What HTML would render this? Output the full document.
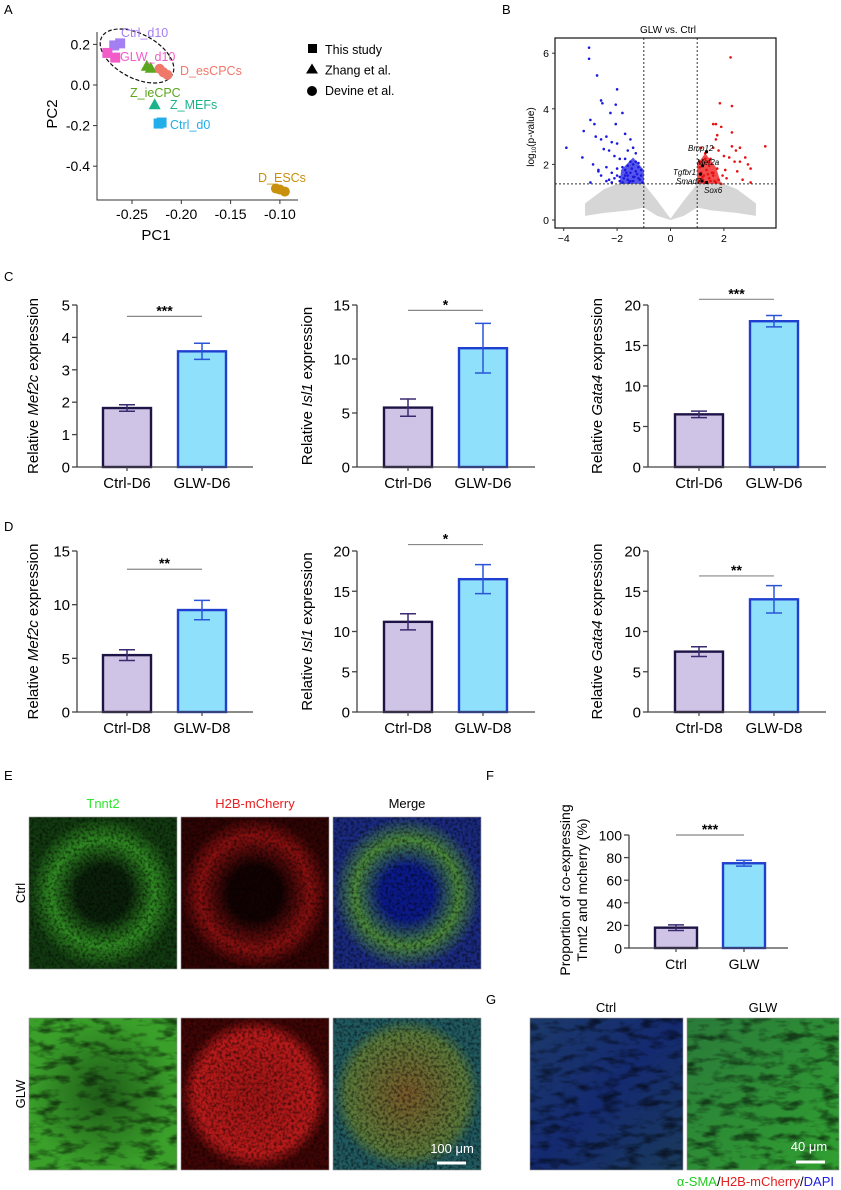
<!DOCTYPE html>
<html><head><meta charset="utf-8">
<style>
body{margin:0;background:#fff;}
svg{display:block;font-family:"Liberation Sans",Arial,sans-serif;}
</style></head>
<body>
<svg id="fig" width="841" height="1190" viewBox="0 0 841 1190" xmlns="http://www.w3.org/2000/svg">
<defs>
<filter id="speck" x="0" y="0" width="100%" height="100%"><feTurbulence type="fractalNoise" baseFrequency="0.35" numOctaves="2" seed="3"/><feColorMatrix type="matrix" values="0 0 0 0 0  0 0 0 0 0  0 0 0 0 0  0 0 0 -2.5 1.5"/></filter>
<filter id="fib" x="0" y="0" width="100%" height="100%"><feTurbulence type="fractalNoise" baseFrequency="0.05 0.12" numOctaves="3" seed="7"/><feColorMatrix type="matrix" values="0 0 0 0 0  0 0 0 0 0  0 0 0 0 0  0 0 0 -3 1.6"/></filter>
<radialGradient id="ringG"><stop offset="0.35" stop-color="#0a200a"/><stop offset="0.7" stop-color="#2f8a22"/><stop offset="1" stop-color="#123a10"/></radialGradient>
<radialGradient id="ringR"><stop offset="0.35" stop-color="#120202"/><stop offset="0.75" stop-color="#8a1010"/><stop offset="1" stop-color="#300404"/></radialGradient>
<radialGradient id="ringM"><stop offset="0.35" stop-color="#0b1a8a"/><stop offset="0.7" stop-color="#4a8a3a"/><stop offset="1" stop-color="#1a2a80"/></radialGradient>
<radialGradient id="fullG"><stop offset="0" stop-color="#1f5a18"/><stop offset="1" stop-color="#3aa02a"/></radialGradient>
<radialGradient id="fullR"><stop offset="0" stop-color="#a01515"/><stop offset="0.8" stop-color="#b81a1a"/><stop offset="1" stop-color="#400505"/></radialGradient>
<radialGradient id="fullM"><stop offset="0" stop-color="#7a5a2a"/><stop offset="0.8" stop-color="#5a7a3a"/><stop offset="1" stop-color="#205a60"/></radialGradient>
<linearGradient id="gCtrl" x1="0" y1="0" x2="1" y2="1"><stop offset="0" stop-color="#1c3a6a"/><stop offset="0.5" stop-color="#142a70"/><stop offset="1" stop-color="#1a3a5a"/></linearGradient>
<linearGradient id="gGlw" x1="0" y1="0" x2="1" y2="1"><stop offset="0" stop-color="#2a7a3a"/><stop offset="1" stop-color="#30a030"/></linearGradient>
</defs>
<g id="root"></g>
</svg>
<script>
// ---------- data ----------
const pcaGroups = ["Ctrl_d10","GLW_d10","Z_ieCPC","D_esCPCs","Z_MEFs","Ctrl_d0","D_ESCs"];
const pcaShapes = ["square","square","triangle","circle","triangle","square","circle"];
const pcaColors = ["#a47ff2","#f25cc9","#5aa61c","#f0786a","#1ab38a","#22aee8","#c8900c"];
const pcaPC1 = [[-0.268,-0.262],[-0.275,-0.267],[-0.235,-0.231],[-0.222,-0.218,-0.214],[-0.227],[-0.223,-0.220],[-0.104,-0.100,-0.095]];
const pcaPC2 = [[0.195,0.205],[0.158,0.135],[0.095,0.085],[0.08,0.062,0.05],[-0.095],[-0.19,-0.185],[-0.51,-0.515,-0.525]];
const pcaXTicks = [-0.25,-0.20,-0.15,-0.10];
const pcaYTicks = [0.2,0.0,-0.2,-0.4];

const volBlueX = [-3.05,-3.05,-2.75,-2.0,-2.6,-2.55,-2.05,-2.25,-3.0,-2.85,-3.25,-2.05,-1.8,-3.9,-3.3,-2.6,-2.4,-2.8,-2.2,-2.0,-1.7,-1.5,-1.6,-1.4,-1.3,-2.5,-2.3,-2.1,-1.9,-1.7,-1.5,-2.9,-2.7,-2.4,-2.2,-2.0,-1.8,-1.6,-1.4,-1.2,-1.1,-1.3,-1.5,-1.7,-1.9,-2.1,-2.3,-2.6,-1.2,-1.4,-1.6,-1.8,-1.25,-1.35,-1.45,-1.55,-1.65,-1.75,-1.15,-1.05,-1.1,-1.2,-1.3,-1.4,-1.5,-1.6,-1.7,-1.9,-2.0,-2.2,-2.4,-2.7,-3.0];
const volBlueY = [6.2,5.8,5.2,4.7,4.3,4.2,4.15,3.85,3.6,3.45,3.2,3.45,3.85,2.6,2.25,2.9,3.0,3.0,2.8,2.75,3.1,2.9,2.5,2.6,2.4,2.55,2.5,2.3,2.2,2.2,2.1,2.0,1.8,1.9,1.7,1.85,1.9,1.95,2.0,2.05,1.8,1.75,1.7,1.6,1.55,1.5,1.45,1.6,1.5,1.4,1.45,1.35,1.65,1.55,1.85,1.35,1.7,1.5,1.45,1.35,1.6,1.9,2.1,1.55,1.4,1.6,1.8,1.4,1.6,1.35,1.4,1.75,1.35];
const volRedX = [2.25,2.3,2.3,1.85,1.6,1.7,1.9,1.75,2.3,2.6,2.8,3.55,2.9,2.5,2.4,2.7,3.0,3.0,2.2,2.0,1.8,1.6,1.4,1.3,1.2,1.1,1.15,1.25,1.35,1.45,1.55,1.65,1.75,1.95,2.1,1.05,1.2,1.3,1.4,1.5,1.6,1.7,1.8,1.9,2.05,1.1,1.2,1.3,1.45,1.6,2.45,2.6,1.7,1.5,1.15];
const volRedY = [5.85,4.1,3.15,4.2,3.45,3.45,3.35,3.05,2.65,2.6,2.25,2.65,2.0,1.75,2.1,1.45,1.85,1.35,2.25,2.3,2.5,2.6,2.1,2.2,2.0,1.9,1.7,1.6,1.8,1.5,1.7,1.4,1.85,1.6,1.5,1.4,1.45,1.35,1.65,1.4,1.6,1.35,1.45,1.3,1.8,2.1,1.55,2.4,1.95,1.7,2.5,2.1,2.9,2.2,2.6];
const volGeneNames = ["Bmp12","Mef2a","Tgfbr1","Smad7","Sox6"];
const volGeneX = [1.35,1.2,1.12,1.18,1.35];
const volGeneY = [2.45,1.95,1.65,1.4,1.35];
const volGrayX = [-3.2,-2.5,-2.0,-1.5,-1.0,-0.5,0,0.5,1.0,1.5,2.0,2.5,3.2];
const volGrayTop = [0.6,1.1,1.3,1.3,1.3,0.7,0.05,0.7,1.3,1.3,1.3,1.1,0.6];
const volGrayBot = [0.15,0.25,0.3,0.35,0.45,0.15,0.0,0.15,0.45,0.35,0.3,0.25,0.15];
const volXTicks = [-4,-2,0,2];
const volYTicks = [0,2,4,6];

const barCats = [["Ctrl-D6","GLW-D6"],["Ctrl-D8","GLW-D8"],["Ctrl","GLW"]];
const c1Vals=[1.82,3.57], c1Errs=[0.1,0.25];
const c2Vals=[5.5,11.0],  c2Errs=[0.8,2.3];
const c3Vals=[6.5,18.0],  c3Errs=[0.4,0.7];
const d1Vals=[5.3,9.5],   d1Errs=[0.5,0.9];
const d2Vals=[11.2,16.5], d2Errs=[1.0,1.8];
const d3Vals=[7.5,14.0],  d3Errs=[0.6,1.7];
const fVals=[18,75],      fErrs=[2.5,2.5];
const c1Ticks=[0,1,2,3,4,5], c2Ticks=[0,5,10,15], c3Ticks=[0,5,10,15,20];
const d1Ticks=[0,5,10,15], d2Ticks=[0,5,10,15,20], d3Ticks=[0,5,10,15,20];
const fTicks=[0,20,40,60,80,100];

// ---------- helpers ----------
const NS="http://www.w3.org/2000/svg";
const root=document.getElementById('root');
function mk(tag,attrs,parent,txt){const e=document.createElementNS(NS,tag);for(const k in attrs)e.setAttribute(k,attrs[k]);if(txt!==undefined)e.textContent=txt;(parent||root).appendChild(e);return e;}
function txt(x,y,s,size,anchor,fill,name,parent,extra){const e=mk('text',Object.assign({x:x,y:y,'font-size':size,'text-anchor':anchor||'start',fill:fill||'#000'},extra||{}),parent,s);


return e;}

// panel letters
[["A",4,14],["B",502,14],["C",4,281],["D",4,531],["E",4,780],["F",486,780],["G",486,1004]].forEach(p=>{
 txt(p[1],p[2],p[0],13,'start','#000','panel-label-'+p[0].toLowerCase());
});

// ---------- Panel A: PCA ----------
(function(){
 const g=mk('g',{});
 
 
 const X=v=>132+(v+0.25)/0.05*49.3, Y=v=>85-v/0.2*40.6;
 const ax=mk('path',{d:'M97,32 V200 H298',stroke:'#333',fill:'none','stroke-width':1},g);
 
 
 pcaXTicks.forEach(t=>{mk('line',{x1:X(t),x2:X(t),y1:200,y2:204,stroke:'#333'},g);txt(X(t),219,t.toFixed(2),14,'middle','#000','pca-x-tick',g);});
 pcaYTicks.forEach(t=>{mk('line',{x1:93,x2:97,y1:Y(t),y2:Y(t),stroke:'#333'},g);txt(90,Y(t)+5,t.toFixed(1),14,'end','#000','pca-y-tick',g);});
 txt(156,240,'PC1',15,'middle','#000','pca-x-title',g);
 txt(0,0,'PC2',15,'middle','#000','pca-y-title',g,{transform:'translate(57,114) rotate(-90)'});
 const el=mk('ellipse',{cx:137,cy:56,rx:40,ry:22,transform:'rotate(28 137 56)',fill:'none',stroke:'#111','stroke-dasharray':'4,2','stroke-width':1.2},g);
 
 
 pcaGroups.forEach((name,i)=>{
  pcaPC1[i].forEach((v,j)=>{
   const cx=X(v), cy=Y(pcaPC2[i][j]); let m;
   if(pcaShapes[i]==='square') m=mk('rect',{x:cx-5,y:cy-5,width:10,height:10,fill:pcaColors[i]},g);
   else if(pcaShapes[i]==='circle') m=mk('circle',{cx:cx,cy:cy,r:5,fill:pcaColors[i]},g);
   else m=mk('path',{d:`M${cx},${cy-6} L${cx+6},${cy+5} L${cx-6},${cy+5}Z`,fill:pcaColors[i]},g);
   
   
  });
 });
 const labs=[[121,37],[120,61],[130,97],[180,75],[170,109],[170,129],[258,182]];
 pcaGroups.forEach((n,i)=>txt(labs[i][0],labs[i][1],n,12.5,'start',pcaColors[i],'pca-label-'+n.toLowerCase().replace('_','-'),g));
 const legT=["This study","Zhang et al.","Devine et al."];
 legT.forEach((t,i)=>{const y=49+i*20.5;
  let m; if(i===0)m=mk('rect',{x:308,y:y-5,width:9,height:9,fill:'#000'},g);
  else if(i===1)m=mk('path',{d:`M312,${y-6} L318,${y+4} L306,${y+4}Z`,fill:'#000'},g);
  else m=mk('circle',{cx:312,cy:y+1,r:5,fill:'#000'},g);
  
  
  txt(325,y+5,t,12.5,'start','#000','legend-entry',g);});
})();

// ---------- Panel B: volcano ----------
(function(){
 const g=mk('g',{});
 
 
 const X=v=>670.5+26.7*v, Y=v=>220-27.8*v;
 let d='M'+volGrayX.map((x,i)=>X(x)+','+Y(volGrayTop[i])).join(' L');
 for(let i=volGrayX.length-1;i>=0;i--) d+=' L'+X(volGrayX[i])+','+Y(volGrayBot[i]);
 const cloud=mk('path',{d:d+'Z',fill:'#d6d6d6'},g);
 
 
 const b1=mk('path',{d:`M${X(-1.9)},${Y(1.3)} L${X(-1.0)},${Y(1.3)} L${X(-1.0)},${Y(1.8)} L${X(-1.4)},${Y(2.25)} L${X(-1.85)},${Y(1.8)}Z`,fill:'#2a2ae6',opacity:0.8},g);
 
 
 const b2=mk('path',{d:`M${X(1.0)},${Y(1.3)} L${X(1.9)},${Y(1.3)} L${X(1.7)},${Y(1.9)} L${X(1.3)},${Y(2.4)} L${X(1.0)},${Y(2.0)}Z`,fill:'#ee2222',opacity:0.8},g);
 
 
 volBlueX.forEach((x,i)=>{const c=mk('circle',{cx:X(x),cy:Y(volBlueY[i]),r:1.3,fill:'#1a1ae0'},g);
  
  });
 volRedX.forEach((x,i)=>{const c=mk('circle',{cx:X(x),cy:Y(volRedY[i]),r:1.3,fill:'#e81010'},g);
  
  });
 [-1,1].forEach(v=>mk('line',{x1:X(v),x2:X(v),y1:38,y2:228,stroke:'#333','stroke-dasharray':'2,2'},g));
 mk('line',{x1:555,x2:776,y1:Y(1.3),y2:Y(1.3),stroke:'#333','stroke-dasharray':'2,2'},g);
 const fr=mk('rect',{x:555,y:38,width:221,height:190,fill:'none',stroke:'#111','stroke-width':1.2},g);
 
 
 volGeneNames.forEach((n,i)=>{mk('circle',{cx:X(volGeneX[i]),cy:Y(volGeneY[i]),r:1.6,fill:'#000'},g);});
 txt(688,151,'Bmp12',8,'start','#000','gene-label-bmp12',g,{'font-style':'italic'});
 txt(697,165,'Mef2a',8,'start','#000','gene-label-mef2a',g,{'font-style':'italic'});
 txt(673,175,'Tgfbr1',8,'start','#000','gene-label-tgfbr1',g,{'font-style':'italic'});
 txt(676,184,'Smad7',8,'start','#000','gene-label-smad7',g,{'font-style':'italic'});
 txt(704,193,'Sox6',8,'start','#000','gene-label-sox6',g,{'font-style':'italic'});
 volXTicks.forEach(t=>{mk('line',{x1:X(t),x2:X(t),y1:228,y2:231,stroke:'#333'},g);txt(X(t),242,t===0?'0':String(t).replace('-','−'),10.5,'middle','#000','volcano-x-tick',g);});
 volYTicks.forEach(t=>{mk('line',{x1:552,x2:555,y1:Y(t),y2:Y(t),stroke:'#333'},g);txt(549,Y(t)+4,String(t),10.5,'end','#000','volcano-y-tick',g);});
 txt(668,33,'GLW vs. Ctrl',10,'middle','#000','volcano-title',g);
 const yl=txt(0,0,'',10,'middle','#000','volcano-y-title',g,{transform:'translate(534,137) rotate(-90)'});
 yl.innerHTML='log<tspan font-size="6" dy="2">10</tspan><tspan dy="-2">(p-value)</tspan>';
})();

// ---------- Bar charts ----------
function barChart(o){
 const g=mk('g',{});
 
 
 const Y=v=>o.bot-(v/o.max)*(o.bot-o.top);
 const bw=o.bw, cx=[o.ax+o.off, o.ax+o.off+o.gap];
 o.vals.forEach((v,i)=>{
  const r=mk('rect',{x:cx[i]-bw/2,y:Y(v),width:bw,height:o.bot-Y(v),fill:i?'#8fe0fb':'#d0c4e6',stroke:i?'#1f3fd0':'#1e1446','stroke-width':2.4},g);
  
  
  const ec=i?'#2a55d8':'#3a2a70';
  const e=mk('path',{d:`M${cx[i]},${Y(v-o.errs[i])} V${Y(v+o.errs[i])} M${cx[i]-8},${Y(v+o.errs[i])} h16 M${cx[i]-8},${Y(v-o.errs[i])} h16`,stroke:ec,'stroke-width':1.5,fill:'none'},g);
  
  
  mk('line',{x1:cx[i],x2:cx[i],y1:o.bot,y2:o.bot+4,stroke:'#444','stroke-width':1.2},g);
  txt(cx[i],o.bot+21,o.cats[i],o.fs,'middle','#000','x-tick-label',g);
 });
 mk('path',{d:`M${o.ax},${o.top} V${o.bot} H${o.xe}`,stroke:'#444','stroke-width':1.3,fill:'none'},g);
 o.ticks.forEach(t=>{mk('line',{x1:o.ax-5,x2:o.ax,y1:Y(t),y2:Y(t),stroke:'#444','stroke-width':1.3},g);txt(o.ax-7,Y(t)+5.5,String(t),o.fs,'end','#000','y-tick-label',g);});
 const sy=Y(o.sig);
 const sl=mk('line',{x1:cx[0],x2:cx[1],y1:sy,y2:sy,stroke:'#888','stroke-width':1.2},g);
 
 
 txt((cx[0]+cx[1])/2,sy-1,o.stars,14,'middle','#000','significance-stars',g,{'font-weight':'bold'});
 const yl=txt(0,0,'',o.fs,'middle','#000','y-axis-title',g,{transform:`translate(${o.ylx},${(o.top+o.bot)/2}) rotate(-90)`});
 yl.innerHTML=o.ylab;
}
const gene=n=>`Relative <tspan font-style="italic">${n}</tspan> expression`;
const rowC={top:305,bot:467}, rowD={top:551,bot:712};
barChart(Object.assign({name:'chart-c-mef2c',ax:77,xe:253,off:50,gap:75,bw:48,max:5,ticks:c1Ticks,vals:c1Vals,errs:c1Errs,cats:barCats[0],sig:4.65,stars:'***',ylx:38,ylab:gene('Mef2c'),fs:15},rowC));
barChart(Object.assign({name:'chart-c-isl1',ax:357,xe:535,off:51,gap:75,bw:48,max:15,ticks:c2Ticks,vals:c2Vals,errs:c2Errs,cats:barCats[0],sig:14.5,stars:'*',ylx:312,ylab:gene('Isl1'),fs:15},rowC));
barChart(Object.assign({name:'chart-c-gata4',ax:648,xe:826,off:51,gap:75,bw:48,max:20,ticks:c3Ticks,vals:c3Vals,errs:c3Errs,cats:barCats[0],sig:20.7,stars:'***',ylx:602,ylab:gene('Gata4'),fs:15},rowC));
barChart(Object.assign({name:'chart-d-mef2c',ax:77,xe:253,off:50,gap:75,bw:48,max:15,ticks:d1Ticks,vals:d1Vals,errs:d1Errs,cats:barCats[1],sig:13.3,stars:'**',ylx:38,ylab:gene('Mef2c'),fs:15},rowD));
barChart(Object.assign({name:'chart-d-isl1',ax:357,xe:535,off:51,gap:75,bw:48,max:20,ticks:d2Ticks,vals:d2Vals,errs:d2Errs,cats:barCats[1],sig:20.8,stars:'*',ylx:312,ylab:gene('Isl1'),fs:15},rowD));
barChart(Object.assign({name:'chart-d-gata4',ax:648,xe:826,off:51,gap:75,bw:48,max:20,ticks:d3Ticks,vals:d3Vals,errs:d3Errs,cats:barCats[1],sig:16.9,stars:'**',ylx:602,ylab:gene('Gata4'),fs:15},rowD));
barChart({name:'chart-f-proportion',top:835,bot:948,ax:629,xe:788,off:47,gap:68,bw:42,max:100,ticks:fTicks,vals:fVals,errs:fErrs,cats:barCats[2],sig:100,stars:'***',ylx:0,ylab:'',fs:14});
(function(){
 txt(0,0,'Proportion of co-expressing',14,'middle','#000','f-y-title-line1',null,{transform:'translate(570,890) rotate(-90)'});
 txt(0,0,'Tnnt2 and mcherry (%)',14,'middle','#000','f-y-title-line2',null,{transform:'translate(587,890) rotate(-90)'});
})();

// ---------- Images ----------
function img(x,y,w,h,fill,overlay,name,ov2){
 const g=mk('g',{});
 
 
 mk('rect',{x:x,y:y,width:w,height:h,fill:fill},g);
 if(overlay){mk('rect',{x:x,y:y,width:w,height:h,fill:overlay,filter:ov2||'url(#speck)',opacity:0.55},g);}
 mk('rect',{x:x,y:y,width:w,height:h,fill:'none',stroke:'#999','stroke-width':0.6},g);
}
img(29,817,148,152,'url(#ringG)','#000','image-ctrl-tnnt2');
img(181,817,148,152,'url(#ringR)','#000','image-ctrl-mcherry');
img(333,817,148,152,'url(#ringM)','#000','image-ctrl-merge');
img(29,1018,148,152,'url(#fullG)','#000','image-glw-tnnt2','url(#fib)');
img(181,1018,148,152,'url(#fullR)','#000','image-glw-mcherry');
img(333,1018,148,152,'url(#fullM)','#000','image-glw-merge');
img(530,1018,153,152,'url(#gCtrl)','#000','image-g-ctrl','url(#fib)');
img(687,1018,152,152,'url(#gGlw)','#000','image-g-glw','url(#fib)');
txt(103,808,'Tnnt2',13,'middle','#2ee82e','col-title-tnnt2');
txt(255,808,'H2B-mCherry',13,'middle','#e82020','col-title-mcherry');
txt(407,808,'Merge',13,'middle','#000','col-title-merge');
txt(0,0,'Ctrl',13,'middle','#000','row-title-ctrl',null,{transform:'translate(25,893) rotate(-90)'});
txt(0,0,'GLW',13,'middle','#000','row-title-glw',null,{transform:'translate(25,1094) rotate(-90)'});
txt(452,1153,'100 μm',13,'middle','#fff','scale-label-100');
mk('line',{x1:437,x2:466,y1:1163,y2:1163,stroke:'#fff','stroke-width':3});
txt(606,1012,'Ctrl',13,'middle','#000','g-title-ctrl');
txt(763,1012,'GLW',13,'middle','#000','g-title-glw');
txt(809,1151,'40 μm',13,'middle','#fff','scale-label-40');
mk('line',{x1:796,x2:825,y1:1162,y2:1162,stroke:'#fff','stroke-width':3});
(function(){const t=txt(834,1186,'',13,'end','#000','g-stain-legend');
 t.innerHTML='<tspan fill="#22cc22">α-SMA</tspan>/<tspan fill="#e02020">H2B-mCherry</tspan>/<tspan fill="#2020e0">DAPI</tspan>';})();
</script>
</body></html>
